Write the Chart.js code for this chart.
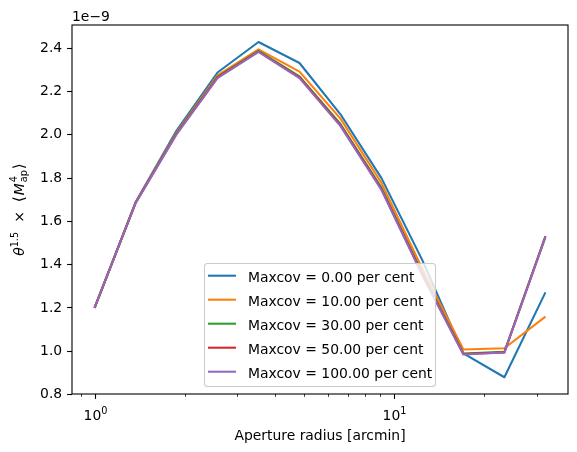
<!DOCTYPE html>
<html>
<head>
<meta charset="utf-8">
<script src="https://cdn.jsdelivr.net/npm/chart.js@4.4.1/dist/chart.umd.min.js"></script>
<style>
    html, body { margin: 0; padding: 0; background: #fff; }
    canvas { display: block; }
</style>
</head>
<body>
<canvas id="chart" width="577" height="452"></canvas>
<script>
// Data (values in units of 1e-9)
const apertureRadius = [1.0, 1.370, 1.878, 2.573, 3.526, 4.832, 6.621, 9.073, 12.43, 17.03, 23.34, 32.0];
const maxcov0   = [1.20, 1.688, 2.020, 2.288, 2.429, 2.332, 2.095, 1.800, 1.420, 0.990, 0.880, 1.272];
const maxcov10  = [1.20, 1.686, 2.012, 2.275, 2.395, 2.292, 2.075, 1.778, 1.380, 1.008, 1.014, 1.160];
const maxcov30  = [1.20, 1.685, 2.008, 2.268, 2.388, 2.270, 2.050, 1.756, 1.360, 0.990, 0.997, 1.532];
const maxcov50  = [1.20, 1.685, 2.005, 2.265, 2.385, 2.266, 2.045, 1.750, 1.355, 0.987, 0.995, 1.530];
const maxcov100 = [1.20, 1.684, 2.002, 2.262, 2.383, 2.262, 2.040, 1.745, 1.350, 0.985, 0.994, 1.527];
const seriesLabels = [
    'Maxcov = 0.00 per cent',
    'Maxcov = 10.00 per cent',
    'Maxcov = 30.00 per cent',
    'Maxcov = 50.00 per cent',
    'Maxcov = 100.00 per cent'
];
const seriesColors = ['#1f77b4', '#ff7f0e', '#2ca02c', '#d62728', '#9467bd'];

// Ticks
const yTicks = [0.8, 1.0, 1.2, 1.4, 1.6, 1.8, 2.0, 2.2, 2.4];
const xMajorTicks = [1, 10];
const xMinorTicks = [0.9, 2, 3, 4, 5, 6, 7, 8, 9, 20, 30];

const FONT = '"DejaVu Sans", sans-serif';
const FS = 13.9;

// Helper: draw a run of text pieces (for the mathtext-like labels)
function drawRuns(ctx, runs, x, y) {
    let cx = x;
    runs.forEach(r => {
        ctx.font = r.font;
        ctx.fillText(r.text, cx, y + (r.dy || 0));
        const w = ctx.measureText(r.text).width;
        if (!r.noAdvance) cx += w + (r.gap || 0);
    });
    return cx - x;
}

function runsWidth(ctx, runs) {
    let w = 0;
    runs.forEach(r => {
        ctx.font = r.font;
        if (!r.noAdvance) w += ctx.measureText(r.text).width + (r.gap || 0);
    });
    return w;
}

// Plugin for matplotlib-style axes decorations
const mplAxes = {
    id: 'mplAxes',
    afterDatasetsDraw(chart) {
        const ctx = chart.ctx;
        const area = chart.chartArea;
        const xs = chart.scales.x;

        ctx.save();
        ctx.fillStyle = '#000';
        ctx.strokeStyle = '#000';

        // x major ticks + labels
        ctx.lineWidth = 1.1;
        xMajorTicks.forEach(v => {
            const px = Math.round(xs.getPixelForValue(v)) + 0.5;
            ctx.beginPath();
            ctx.moveTo(px, area.bottom);
            ctx.lineTo(px, area.bottom + 4.9);
            ctx.stroke();

            const exp = String(Math.round(Math.log10(v)));
            const runs = [
                { text: '10', font: `${FS}px ${FONT}` },
                { text: exp, font: `${FS * 0.7}px ${FONT}`, dy: -5.5 }
            ];
            ctx.textBaseline = 'alphabetic';
            ctx.textAlign = 'left';
            const w = runsWidth(ctx, runs);
            drawRuns(ctx, runs, px - w / 2, 419.5);
        });

        // x minor ticks
        ctx.lineWidth = 0.8;
        xMinorTicks.forEach(v => {
            const px = Math.round(xs.getPixelForValue(v)) + 0.5;
            ctx.beginPath();
            ctx.moveTo(px, area.bottom);
            ctx.lineTo(px, area.bottom + 2.8);
            ctx.stroke();
        });

        // x-axis title
        ctx.font = `${FS}px ${FONT}`;
        ctx.textAlign = 'center';
        ctx.textBaseline = 'alphabetic';
        ctx.fillText('Aperture radius [arcmin]', (area.left + area.right) / 2, 440);

        // offset text
        ctx.textAlign = 'left';
        ctx.fillText('1e\u22129', area.left, 21);

        // y-axis title (rotated)
        const it = `italic ${FS}px ${FONT}`;
        const rm = `${FS}px ${FONT}`;
        const sm = `${FS * 0.7}px ${FONT}`;
        const yRuns = [
            { text: '\u03b8', font: it },
            { text: '1.5', font: sm, dy: -6, gap: 9 },
            { text: '\u00d7', font: rm, gap: 9 },
            { text: '\u27e8', font: `${FS * 1.1}px ${FONT}`, gap: 1 },
            { text: 'M', font: it, gap: 1 },
            { text: '4', font: sm, dy: -6.5, noAdvance: true },
            { text: 'ap', font: sm, dy: 3.5, gap: 1 },
            { text: '\u27e9', font: `${FS * 1.1}px ${FONT}` }
        ];
        ctx.translate(23.5, (area.top + area.bottom) / 2);
        ctx.rotate(-Math.PI / 2);
        const tw = runsWidth(ctx, yRuns);
        drawRuns(ctx, yRuns, -tw / 2, 0);
        ctx.setTransform(1, 0, 0, 1, 0, 0);

        // spines
        ctx.lineWidth = 1.1;
        ctx.strokeRect(area.left, area.top, area.right - area.left, area.bottom - area.top);

        // legend
        const lx = 204.5, ly = 263.5, lw = 231, lh = 123;
        ctx.beginPath();
        ctx.roundRect(lx, ly, lw, lh, 3);
        ctx.fillStyle = 'rgba(255,255,255,0.8)';
        ctx.fill();
        ctx.strokeStyle = '#cccccc';
        ctx.lineWidth = 1.1;
        ctx.stroke();

        ctx.font = `${FS}px ${FONT}`;
        ctx.textAlign = 'left';
        ctx.textBaseline = 'alphabetic';
        chart.data.datasets.forEach((ds, i) => {
            const ry = 275.7 + i * 24;
            ctx.strokeStyle = ds.borderColor;
            ctx.lineWidth = 2.08;
            ctx.beginPath();
            ctx.moveTo(208, ry);
            ctx.lineTo(236, ry);
            ctx.stroke();
            ctx.fillStyle = '#000';
            ctx.fillText(ds.label, 248, ry + 5.9);
        });

        ctx.restore();
    }
};

const allSeries = [maxcov0, maxcov10, maxcov30, maxcov50, maxcov100];

new Chart(document.getElementById('chart'), {
    type: 'line',
    data: {
        labels: apertureRadius,
        datasets: allSeries.map((s, i) => ({
            label: seriesLabels[i],
            data: s.map((v, j) => ({ x: apertureRadius[j], y: v })),
            borderColor: seriesColors[i],
            backgroundColor: seriesColors[i],
            borderWidth: 2.08,
            pointRadius: 0,
            tension: 0,
            borderJoinStyle: 'round',
            order: 5 - i
        }))
    },
    options: {
        responsive: false,
        animation: false,
        devicePixelRatio: 1,
        layout: { padding: { top: 25, right: 9, left: 0, bottom: 0 } },
        plugins: {
            legend: { display: false },
            tooltip: { enabled: false }
        },
        scales: {
            x: {
                type: 'logarithmic',
                min: 0.8408,
                max: 38.06,
                ticks: { display: false },
                grid: { display: false },
                border: { display: false },
                afterFit(scale) { scale.height = 58; }
            },
            y: {
                type: 'linear',
                min: 0.8025,
                max: 2.5075,
                afterBuildTicks(scale) {
                    scale.ticks = yTicks.map(v => ({ value: v }));
                },
                ticks: {
                    color: '#000',
                    padding: 4.9,
                    font: { family: 'DejaVu Sans', size: FS },
                    callback: v => Number(v).toFixed(1)
                },
                grid: {
                    drawOnChartArea: false,
                    tickLength: 4.9,
                    tickColor: '#000',
                    tickWidth: 1.1
                },
                border: { display: false },
                afterFit(scale) { scale.width = 72; }
            }
        }
    },
    plugins: [mplAxes]
});
</script>
</body>
</html>
